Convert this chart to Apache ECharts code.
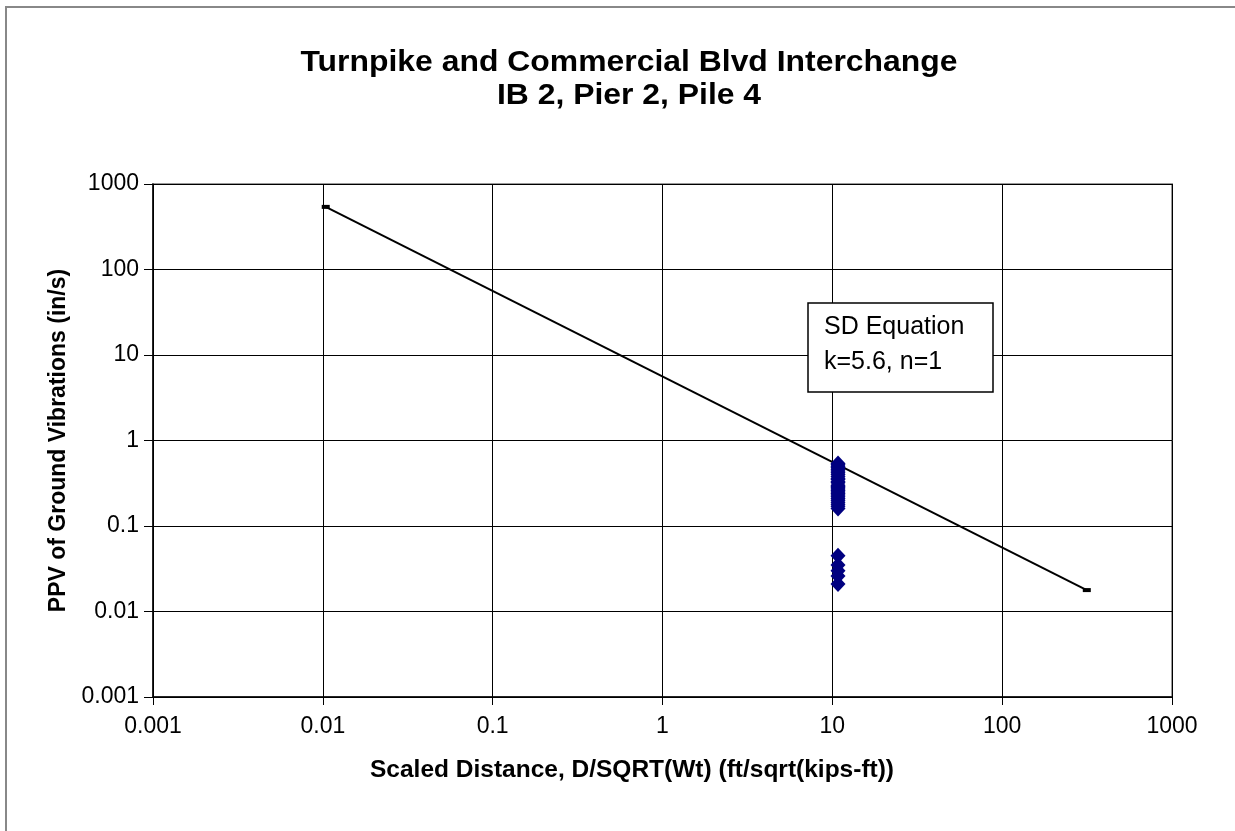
<!DOCTYPE html>
<html><head><meta charset="utf-8">
<script src="https://cdn.jsdelivr.net/npm/echarts@6/dist/echarts.min.js"></script>
<style>html,body{margin:0;padding:0;background:#fff}#c{width:1235px;height:831px}</style>
</head><body><div id="c"></div>
<script>
const titleLines = ["Turnpike and Commercial Blvd Interchange", "IB 2, Pier 2, Pile 4"];
const xName = "Scaled Distance, D/SQRT(Wt) (ft/sqrt(kips-ft))";
const yName = "PPV of Ground Vibrations (in/s)";
const tickValues = [0.001, 0.01, 0.1, 1, 10, 100, 1000];
const tickLabels = ["0.001", "0.01", "0.1", "1", "10", "100", "1000"];
const sdX = 10.8;
const ppvValues = [0.54, 0.52, 0.50, 0.48, 0.46, 0.44, 0.42, 0.40, 0.38, 0.36, 0.35, 0.33, 0.32, 0.30, 0.29, 0.28, 0.27, 0.26, 0.25, 0.24, 0.23, 0.22, 0.21, 0.20, 0.19, 0.18, 0.17, 0.16,
                   0.045, 0.035, 0.030, 0.026, 0.021];
const lineX = [0.0104, 315];
const lineY = [540, 0.0178];
const boxLines = ["SD Equation", "k=5.6, n=1"];

const chart = echarts.init(document.getElementById('c'), null, {renderer: 'canvas'});
const fmt = v => { const i = tickValues.findIndex(t => Math.abs(Math.log10(t) - Math.log10(v)) < 1e-6); return i >= 0 ? tickLabels[i] : ''; };
const font = 'Arial, "Liberation Sans", sans-serif';
chart.setOption({
  animation: false,
  textStyle: {fontFamily: font},
  grid: {left: 153, top: 184, right: 63, bottom: 134, show: true, borderColor: '#999', borderWidth: 2},
  xAxis: {
    type: 'log', logBase: 10, min: 0.001, max: 1000,
    axisLine: {show: true, onZero: false, lineStyle: {color: '#000', width: 1.5}},
    axisTick: {show: true, inside: false, length: 8, lineStyle: {color: '#000'}},
    minorTick: {show: false},
    axisLabel: {formatter: fmt, fontSize: 23, color: '#000', margin: 18, fontFamily: font},
    splitLine: {show: true, lineStyle: {color: '#000', width: 1}}
  },
  yAxis: {
    type: 'log', logBase: 10, min: 0.001, max: 1000,
    name: yName, nameLocation: 'middle', nameGap: 80,
    nameTextStyle: {fontSize: 23, fontWeight: 'bold', color: '#000', fontFamily: font},
    axisLine: {show: true, onZero: false, lineStyle: {color: '#000', width: 1.5}},
    axisTick: {show: true, inside: false, length: 9, lineStyle: {color: '#000'}},
    axisLabel: {formatter: fmt, fontSize: 23, color: '#000', margin: 14, fontFamily: font},
    splitLine: {show: true, lineStyle: {color: '#000', width: 1}}
  },
  series: [
    {
      type: 'line', data: lineX.map((x, i) => [x, lineY[i]]),
      symbol: 'rect', symbolSize: [8, 4], showSymbol: true,
      itemStyle: {color: '#000'}, lineStyle: {color: '#000', width: 2}, z: 3
    },
    {
      type: 'scatter', data: ppvValues.map(v => [sdX, v]),
      symbol: 'diamond', symbolSize: [15, 16],
      itemStyle: {color: '#000080', opacity: 1}, z: 4
    }
  ],
  graphic: [
    {type: 'rect', shape: {x: 6, y: 7, width: 1240, height: 840}, style: {fill: 'none', stroke: '#888', lineWidth: 2}, silent: true, z: -10},
    {type: 'text', x: 629, y: 63, scaleX: 1.1, style: {text: titleLines[0], font: 'bold 29px ' + font, fill: '#000', textAlign: 'center', textVerticalAlign: 'middle'}, z: 11},
    {type: 'text', x: 629, y: 96, scaleX: 1.1, style: {text: titleLines[1], font: 'bold 29px ' + font, fill: '#000', textAlign: 'center', textVerticalAlign: 'middle'}, z: 11},
    {type: 'text', x: 632, y: 770, style: {text: xName, font: 'bold 24.5px ' + font, fill: '#000', textAlign: 'center', textVerticalAlign: 'middle'}, z: 11},
    {type: 'rect', shape: {x: 808, y: 303, width: 185, height: 89}, style: {fill: '#fff', stroke: '#000', lineWidth: 1.5}, z: 10},
    {type: 'text', x: 824, y: 327, style: {text: boxLines[0], font: '25px ' + font, fill: '#000', textVerticalAlign: 'middle'}, z: 11},
    {type: 'text', x: 824, y: 362, style: {text: boxLines[1], font: '25px ' + font, fill: '#000', textVerticalAlign: 'middle'}, z: 11}
  ]
});
</script></body></html>
